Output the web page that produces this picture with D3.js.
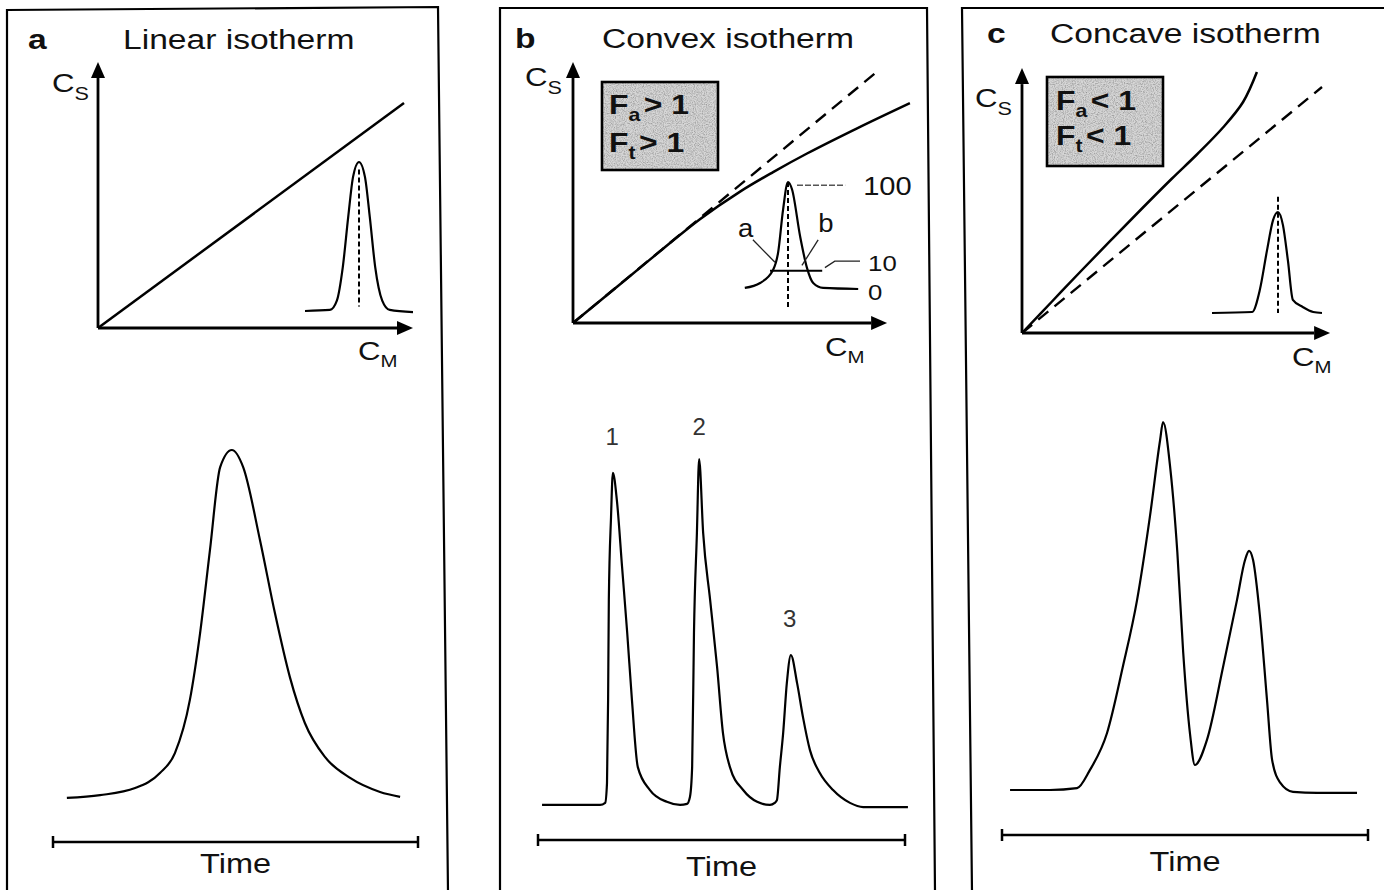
<!DOCTYPE html>
<html>
<head>
<meta charset="utf-8">
<script src="https://cdn.jsdelivr.net/npm/d3@7"></script>
<style>
  body { margin: 0; background: #fff; }
  svg { display: block; }
  text { font-family: "Liberation Sans", Arial, sans-serif; fill: #111; }
</style>
</head>
<body>
<svg id="chart" width="1384" height="890"></svg>
<script>
// ---- data ----
const panelLetters = ['a', 'b', 'c'];
const panelTitles = ['Linear isotherm', 'Convex isotherm', 'Concave isotherm'];
const boxSigns = [null, '>', '<'];

// isotherms: C_M (x) vs C_S (y), arbitrary units
const isoA = [[0, 0], [102, 75]];
const isoBLinear = [[0, 0], [101, 83.5]];
const isoB = [[0, 0], [15.7, 12.9], [29, 23.9], [42.3, 34.6], [55.7, 43.8], [66.7, 50.3], [78, 56.5], [94.7, 64.9], [112.3, 73.3]];
const isoCLinear = [[0, 0], [100, 82]];
const isoC = [[0, 0], [10, 10.5], [20, 21], [30, 31.3], [40, 41.5], [50, 51.5], [58.3, 59.5], [67, 68.5], [73.7, 77], [78.3, 87]];

// small band profiles drawn inside the isotherm plots (relative position, relative height)
const bandA = [[-1, 0], [-0.54, 0.007], [-0.41, 0.07], [-0.3, 0.295], [-0.2, 0.63], [-0.11, 0.9], [0, 1], [0.11, 0.9], [0.2, 0.63], [0.3, 0.295], [0.43, 0.07], [0.57, 0.007], [1, -0.007]];
const bandB = [[-0.96, 0.01], [-0.62, 0.056], [-0.33, 0.18], [-0.22, 0.34], [-0.11, 0.74], [0, 1], [0.09, 0.93], [0.27, 0.49], [0.42, 0.2], [0.56, 0.056], [0.78, 0.01], [1.56, 0]];
const bandC = [[-1.2, 0], [-0.47, 0.01], [-0.33, 0.23], [-0.2, 0.62], [-0.09, 0.92], [0, 1], [0.09, 0.87], [0.18, 0.52], [0.27, 0.13], [0.45, 0.06], [0.64, 0.01], [0.8, 0]];
const bandCentreTop = [0.95, 1.0, 1.15];      // dashed centre line extent (relative height)
const bandCentreBottom = [0.03, -0.17, 0.0];
const bandBLevels = ['100', '10', '0'];
const bandBLevelValues = [0.88, 0.17, -0.1];

// chromatograms: time (0-100) vs signal (0-100)
const chromA = [[3.8, 0.6], [12.9, 1.4], [22.5, 3.4], [29.3, 7.7], [33.4, 13.4], [37.5, 28.6], [40.3, 47.7], [43, 71.4], [45.8, 95.1], [49, 100], [52.1, 95.1], [56.7, 74.3], [60.8, 53.4], [64.9, 35.1], [69, 22], [74.5, 12.3], [81.4, 6.3], [89.6, 2.3], [95.1, 0.9]];
const chromB = [[1.1, 0.3], [16.9, 0.3], [18.3, 0.9], [18.8, 6.6], [19.1, 30.5], [19.3, 59.4], [19.9, 83.3], [20.4, 96], [21.5, 88], [22.9, 69], [24.3, 50], [25.6, 30.5], [27.2, 11.2], [30.5, 4.6], [35.1, 1.2], [38.7, 0.3], [40.6, 0.6], [41.4, 2.6], [42, 11.2], [42.5, 49.9], [43.3, 78.7], [43.9, 100], [45, 78.7], [46.9, 59.4], [48.8, 40], [50.4, 21], [52.3, 11.2], [55.9, 4.6], [59.7, 1.2], [63.2, 0.3], [64.5, 0.9], [65.1, 1.7], [65.9, 11.2], [66.8, 21], [67.8, 35.4], [68.9, 43.5], [70.6, 35.4], [72.2, 25.6], [74.1, 16.1], [76.8, 9.5], [80.4, 4.6], [85, 0.9], [88.6, -0.3], [100.8, -0.3]];
const chromC = [[2.2, 0], [13.1, 0], [20.5, 0.5], [24, 5.4], [28.7, 15.5], [33, 33.4], [36.9, 51.6], [40.4, 74.2], [43.2, 95.1], [44, 100], [46, 87.2], [47.9, 64.7], [49.5, 37.5], [51.4, 15], [52.7, 6.8], [56, 13.6], [60.4, 33.4], [64.2, 51.6], [66.4, 62.5], [67.5, 65], [68.6, 62.5], [70.5, 47], [72.4, 24.5], [73.8, 8.2], [76, 2], [79.5, -0.5], [86.1, -0.8], [97, -0.8]];
const peakLabelsB = [{ t: 20.2, s: 104, text: '1' }, { t: 43.9, s: 107, text: '2' }, { t: 68.6, s: 51.6, text: '3' }];

const isoSolid = [isoA, isoB, isoC];
const isoDashed = [null, isoBLinear, isoCLinear];
const bands = [bandA, bandB, bandC];
const chroms = [chromA, chromB, chromC];

// ---- layout ----
const layout = [
  { frame: [[7, 892], [7, 10], [438, 7], [448, 892]], letter: [28, 49], title: [123, 49],
    origin: [98, 328], axisMax: [105, 88.7], cs: [52, 92], cm: [358, 360],
    band: { cx: 359, w: 54, base: 311, h: 149 },
    chrom: { x0: 53, x1: 418, y0: 800, y1: 450, bar: 842, timeY: 873 } },
  { frame: [[500, 892], [500, 8], [927, 8], [935, 892]], letter: [515, 48], title: [602, 48],
    origin: [573, 323], axisMax: [104.7, 87], cs: [525, 86], cm: [825, 356],
    box: { x: 602, y: 82, w: 116, h: 88, tx: 609, lines: [114, 152] },
    band: { cx: 788, w: 45, base: 289, h: 107 },
    chrom: { x0: 538, x1: 905, y0: 806, y1: 459, bar: 840, timeY: 876 } },
  { frame: [[972, 892], [962, 8], [1390, 8]], letter: [987, 43], title: [1050, 43],
    origin: [1022, 333], axisMax: [102.7, 88.3], cs: [975, 107], cm: [1292, 366],
    box: { x: 1047, y: 77, w: 116, h: 89, tx: 1056, lines: [110, 145] },
    band: { cx: 1278, w: 55, base: 313, h: 101 },
    chrom: { x0: 1002, x1: 1368, y0: 790, y1: 422, bar: 835, timeY: 871 } }
];

const SX = 1.2;   // the original lettering is horizontally stretched
const svg = d3.select('#chart');

// stipple for the grey boxes
const defs = svg.append('defs');
const filt = defs.append('filter').attr('id', 'grain').attr('x', 0).attr('y', 0).attr('width', 1).attr('height', 1);
filt.append('feTurbulence').attr('type', 'fractalNoise').attr('baseFrequency', 0.9).attr('numOctaves', 2).attr('seed', 4).attr('result', 'n');
filt.append('feColorMatrix').attr('in', 'n').attr('type', 'matrix')
  .attr('values', '0 0 0 0 0.3  0 0 0 0 0.3  0 0 0 0 0.3  2 0 0 0 -0.75').attr('result', 'dots');
filt.append('feFlood').attr('flood-color', '#d6d6d6').attr('result', 'bg');
filt.append('feComposite').attr('in', 'dots').attr('in2', 'bg').attr('operator', 'over');

function addText(g, x, y, str, size, opts = {}) {
  return g.append('text')
    .attr('transform', `translate(${x},${y}) scale(${opts.sx || SX},1)`)
    .attr('font-size', size)
    .attr('font-weight', opts.bold ? 'bold' : null)
    .attr('text-anchor', opts.anchor || 'start')
    .style('fill', opts.fill || null)
    .text(str);
}

function addSubText(g, x, y, main, sub, size, subSize, dy, opts = {}) {
  const t = addText(g, x, y, main, size, opts);
  t.append('tspan').attr('font-size', subSize).attr('dy', dy).text(sub);
  if (opts.rest) t.append('tspan').attr('dy', -dy).attr('dx', opts.restDx || 0).text(opts.rest);
  return t;
}

function arrow(g, x1, y1, x2, y2) {
  const len = 16, hw = 7;
  const dx = x2 - x1, dy = y2 - y1, d = Math.hypot(dx, dy);
  const ux = dx / d, uy = dy / d;
  const bx = x2 - ux * len, by = y2 - uy * len;
  g.append('line').attr('x1', x1).attr('y1', y1).attr('x2', bx).attr('y2', by)
    .attr('stroke', '#000').attr('stroke-width', 2.8);
  g.append('polygon')
    .attr('points', [[x2, y2], [bx - uy * hw, by + ux * hw], [bx + uy * hw, by - ux * hw]].map(p => p.join(',')).join(' '))
    .attr('fill', '#000');
}

layout.forEach((L, i) => {
  const g = svg.append('g');

  // frame
  g.append('path').attr('d', d3.line()(L.frame))
    .attr('fill', 'none').attr('stroke', '#000').attr('stroke-width', 2.2);

  // titles
  addText(g, L.letter[0], L.letter[1], panelLetters[i], 28, { bold: true });
  addText(g, L.title[0], L.title[1], panelTitles[i], 28);

  // ---- isotherm plot ----
  const x = d3.scaleLinear().domain([0, 100]).range([L.origin[0], L.origin[0] + 300]);
  const y = d3.scaleLinear().domain([0, 100]).range([L.origin[1], L.origin[1] - 300]);
  const iso = d3.line().x(d => x(d[0])).y(d => y(d[1])).curve(d3.curveCatmullRom.alpha(0.5));

  if (L.box) {
    g.append('rect').attr('x', L.box.x).attr('y', L.box.y).attr('width', L.box.w).attr('height', L.box.h)
      .attr('fill', '#ccc').attr('filter', 'url(#grain)');
    g.append('rect').attr('x', L.box.x).attr('y', L.box.y).attr('width', L.box.w).attr('height', L.box.h)
      .attr('fill', 'none').attr('stroke', '#000').attr('stroke-width', 2.6);
    addSubText(g, L.box.tx, L.box.lines[0], 'F', 'a', 27, 18, 7, { bold: true, sx: 1.18, restDx: 3, rest: `${boxSigns[i]} 1` });
    addSubText(g, L.box.tx, L.box.lines[1], 'F', 't', 27, 18, 7, { bold: true, sx: 1.18, restDx: 3, rest: `${boxSigns[i]} 1` });
  }

  arrow(g, x(0), y(0), x(0), y(L.axisMax[1]));
  arrow(g, x(0), y(0), x(L.axisMax[0]), y(0));
  addSubText(g, L.cs[0], L.cs[1], 'C', 'S', 26, 18, 8);
  addSubText(g, L.cm[0], L.cm[1], 'C', 'M', 26, 17, 7);

  if (isoDashed[i]) {
    g.append('path').attr('d', iso(isoDashed[i])).attr('fill', 'none')
      .attr('stroke', '#000').attr('stroke-width', 2.4).attr('stroke-dasharray', '13,8');
  }
  g.append('path').attr('d', iso(isoSolid[i])).attr('fill', 'none')
    .attr('stroke', '#000').attr('stroke-width', 2.5);

  // band profile inside the isotherm plot
  const B = L.band;
  const bx = d3.scaleLinear().domain([-1, 1]).range([B.cx - B.w, B.cx + B.w]);
  const by = d3.scaleLinear().domain([0, 1]).range([B.base, B.base - B.h]);
  const bandLine = d3.line().x(d => bx(d[0])).y(d => by(d[1])).curve(d3.curveMonotoneX);
  g.append('path').attr('d', bandLine(bands[i])).attr('fill', 'none')
    .attr('stroke', '#000').attr('stroke-width', 2.2);
  g.append('line').attr('x1', bx(0)).attr('x2', bx(0))
    .attr('y1', by(bandCentreTop[i])).attr('y2', by(bandCentreBottom[i]))
    .attr('stroke', '#000').attr('stroke-width', 2).attr('stroke-dasharray', '5,3');

  if (i === 1) {
    // 10 % level and labels
    g.append('line').attr('x1', bx(-0.4)).attr('x2', bx(0.76)).attr('y1', by(0.17)).attr('y2', by(0.17))
      .attr('stroke', '#000').attr('stroke-width', 2);
    const leaders = [
      [[0.2, 0.97], [1.27, 0.97]],
      [[0.82, 0.2], [1.04, 0.26], [1.6, 0.26]],
      [[-0.78, 0.46], [-0.29, 0.25]],
      [[0.67, 0.46], [0.31, 0.22]]
    ];
    leaders.forEach((pts, k) => {
      g.append('path').attr('d', d3.line().x(d => bx(d[0])).y(d => by(d[1]))(pts))
        .attr('fill', 'none').attr('stroke', k === 0 ? '#555' : '#222')
        .attr('stroke-width', k === 0 ? 1.4 : 1.3)
        .attr('stroke-dasharray', k === 0 ? '6,2' : null);
    });
    bandBLevels.forEach((lab, k) => {
      addText(g, bx(k === 0 ? 1.67 : 1.78), by(bandBLevelValues[k]), lab, k === 0 ? 26 : 23, { sx: 1.12 });
    });
    addText(g, bx(-1.11), by(0.49), 'a', 25, { sx: 1.1 });
    addText(g, bx(0.67), by(0.53), 'b', 25, { sx: 1.1 });
  }

  // ---- chromatogram ----
  const C = L.chrom;
  const tx = d3.scaleLinear().domain([0, 100]).range([C.x0, C.x1]);
  const sy = d3.scaleLinear().domain([0, 100]).range([C.y0, C.y1]);
  const chromLine = d3.line().x(d => tx(d[0])).y(d => sy(d[1])).curve(d3.curveMonotoneX);
  g.append('path').attr('d', chromLine(chroms[i])).attr('fill', 'none')
    .attr('stroke', '#000').attr('stroke-width', 2.2).attr('stroke-linejoin', 'round');

  if (i === 1) {
    peakLabelsB.forEach(p => {
      addText(g, tx(p.t), sy(p.s), p.text, 24, { anchor: 'middle', sx: 1.0, fill: '#333' });
    });
  }

  // time bar
  g.append('line').attr('x1', tx(0)).attr('x2', tx(100)).attr('y1', C.bar).attr('y2', C.bar)
    .attr('stroke', '#000').attr('stroke-width', 2.5);
  [0, 100].forEach(v => {
    g.append('line').attr('x1', tx(v)).attr('x2', tx(v)).attr('y1', C.bar - 6).attr('y2', C.bar + 6)
      .attr('stroke', '#000').attr('stroke-width', 2.5);
  });
  addText(g, (tx(0) + tx(100)) / 2, C.timeY, 'Time', 28, { anchor: 'middle', sx: 1.16 });
});
</script>
</body>
</html>
